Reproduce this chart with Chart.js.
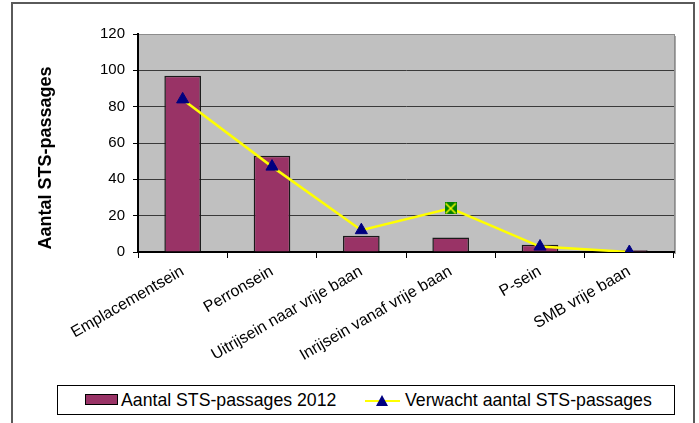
<!DOCTYPE html>
<html>
<head>
<meta charset="utf-8">
<script src="https://cdn.jsdelivr.net/npm/chart.js@4/dist/chart.umd.min.js"></script>
<style>
  html, body { margin: 0; padding: 0; background: #fff; overflow: hidden; }
  #kader { position: relative; width: 699px; height: 423px; }
  #rand { position: absolute; left: 11px; top: 2px; width: 684px; height: 500px;
          border: 2px solid #5a5a5a; box-sizing: border-box; }
  canvas { position: absolute; left: 0; top: 0; }
  #legenda { position: absolute; left: 57px; top: 385px; width: 618px; height: 30px;
             border: 1px solid #000; box-sizing: border-box; background: #fff;
             font-family: "Liberation Sans", Arial, sans-serif; font-size: 17.7px; color: #000; }
  .item { position: absolute; top: 4px; line-height: 20px; white-space: nowrap; }
  .balk { display: inline-block; width: 31px; height: 9px; background: #993366;
          border: 1px solid #000; vertical-align: 1px; margin-right: 3px; }
  .lijn { display: inline-block; position: relative; width: 35px; height: 12px; margin-right: 5px; vertical-align: -1px; }
  .lijn::before { content: ""; position: absolute; left: 0; right: 0; top: 5px; height: 2px; background: #ffff00; }
  .lijn::after { content: ""; position: absolute; left: 11px; top: 0; width: 0; height: 0;
                 border-left: 6px solid transparent; border-right: 6px solid transparent;
                 border-bottom: 11px solid #000080; }
</style>
</head>
<body>
<div id="kader">
  <div id="rand"></div>
  <canvas id="stsChart" width="699" height="423"></canvas>
  <div id="legenda">
    <div class="item" style="left:27px"><span class="balk"></span>Aantal STS-passages 2012</div>
    <div class="item" style="left:307px"><span class="lijn"></span>Verwacht aantal STS-passages</div>
  </div>
</div>
<script>
// Seinsoorten op de x-as
const categorieen = [
  'Emplacementsein',
  'Perronsein',
  'Uitrijsein naar vrije baan',
  'Inrijsein vanaf vrije baan',
  'P-sein',
  'SMB vrije baan'
];

// Gemeten aantal STS-passages in 2012
const aantal2012 = [97, 53, 9, 8, 4, 1];

// Verwacht aantal STS-passages
const verwacht = [84, 47, 12, 24, 3, 0];

// Schaal van de y-as
const yMax = 120;
const yStap = 20;

// Punt dat met een afwijkende markering wordt getoond
const afwijkendPunt = 3;

const lettertype = '"Liberation Sans", Arial, sans-serif';

// Groen vierkantje met geel kruis als marker
function maakKruisMarker() {
  const c = document.createElement('canvas');
  c.width = 12;
  c.height = 12;
  const g = c.getContext('2d');
  g.fillStyle = '#008000';
  g.fillRect(0, 0, 12, 12);
  g.strokeStyle = '#ffff00';
  g.lineWidth = 1.5;
  g.beginPath();
  g.moveTo(1, 1); g.lineTo(11, 11);
  g.moveTo(11, 1); g.lineTo(1, 11);
  g.stroke();
  return c;
}

const kruisMarker = maakKruisMarker();

// Grijze achtergrond van het tekengebied plus kader en y-as titel
const tekengebied = {
  id: 'tekengebied',
  beforeDraw(chart) {
    const { ctx, chartArea: a } = chart;
    ctx.save();
    ctx.fillStyle = '#c0c0c0';
    ctx.fillRect(a.left, a.top, a.right - a.left, a.bottom - a.top);
    // schaduw rechts
    ctx.fillStyle = '#a8a8a8';
    ctx.fillRect(a.right, a.top + 2, 2, a.bottom - a.top);
    ctx.strokeStyle = '#8c8c8c';
    ctx.lineWidth = 1;
    ctx.strokeRect(a.left + 0.5, a.top + 0.5, a.right - a.left, a.bottom - a.top);
    ctx.restore();
  },
  afterDraw(chart) {
    const { ctx } = chart;
    ctx.save();
    ctx.translate(46, 158);
    ctx.rotate(-Math.PI / 2);
    ctx.font = 'bold 18px ' + lettertype;
    ctx.fillStyle = '#000';
    ctx.textAlign = 'center';
    ctx.textBaseline = 'middle';
    ctx.fillText('Aantal STS-passages', 0, 0);
    ctx.restore();
  }
};

const ctx = document.getElementById('stsChart').getContext('2d');

const grafiek = new Chart(ctx, {
  type: 'bar',
  data: {
    labels: categorieen,
    datasets: [
      {
        type: 'line',
        label: 'Verwacht aantal STS-passages',
        data: verwacht,
        order: 0,
        borderColor: '#ffff00',
        borderWidth: 2.5,
        tension: 0,
        fill: false,
        pointStyle: verwacht.map((v, i) => i === afwijkendPunt ? kruisMarker : 'triangle'),
        pointRadius: 7,
        pointBackgroundColor: '#000080',
        pointBorderColor: '#000080',
        pointBorderWidth: 1
      },
      {
        type: 'bar',
        label: 'Aantal STS-passages 2012',
        data: aantal2012,
        order: 1,
        backgroundColor: '#993366',
        borderColor: '#1a1a1a',
        borderWidth: 1.5,
        barPercentage: 0.41,
        categoryPercentage: 1
      }
    ]
  },
  options: {
    responsive: false,
    animation: false,
    layout: {
      padding: { top: 34, left: 0, right: 25, bottom: 41 }
    },
    plugins: {
      legend: { display: false },
      tooltip: { enabled: false }
    },
    scales: {
      x: {
        afterFit(scale) { scale.height = 130; },
        grid: {
          offset: true,
          drawOnChartArea: false,
          drawTicks: true,
          tickLength: 6,
          tickColor: '#000'
        },
        border: { color: '#000', width: 2 },
        ticks: {
          minRotation: 30,
          maxRotation: 30,
          autoSkip: false,
          padding: 4,
          color: '#000',
          font: { family: lettertype, size: 16 }
        }
      },
      y: {
        min: 0,
        max: yMax,
        afterFit(scale) { scale.width = 138; },
        grid: {
          color: c => c.tick && c.tick.value === yMax ? '#8c8c8c' : '#3a3a3a',
          lineWidth: 1,
          drawTicks: true,
          tickLength: 5,
          tickColor: '#000'
        },
        border: { color: '#000', width: 2 },
        ticks: {
          stepSize: yStap,
          padding: 8,
          color: '#000',
          font: { family: lettertype, size: 15 }
        }
      }
    }
  },
  plugins: [tekengebied]
});
</script>
</body>
</html>
